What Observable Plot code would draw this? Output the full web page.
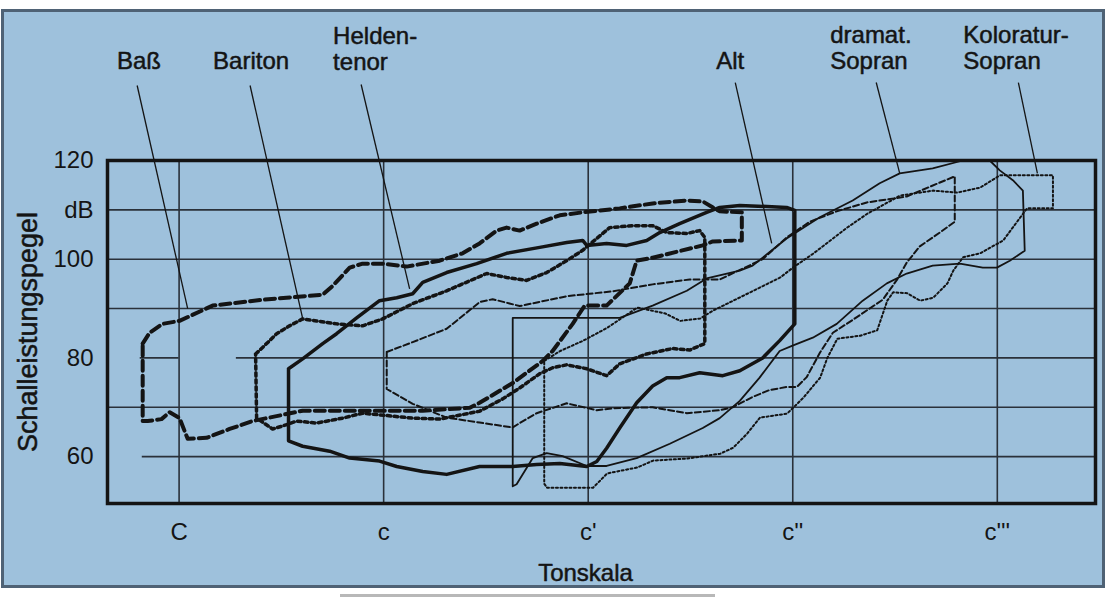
<!DOCTYPE html>
<html><head><meta charset="utf-8">
<script src="https://cdn.jsdelivr.net/npm/d3@7"></script>
<script src="https://cdn.jsdelivr.net/npm/@observablehq/plot@0.6"></script>
<style>
html,body{margin:0;padding:0;background:#fff;}
#page{position:relative;width:1108px;height:597px;overflow:hidden;}
#panel{position:absolute;left:1px;top:9px;width:1098px;height:573px;background:rgb(158,193,220);border:3px solid #4f6275;}
#bar{position:absolute;left:340px;top:594px;width:375px;height:3px;background:#b8b8b8;}
#chart{position:absolute;left:0;top:0;}
</style></head><body>
<div id="page"><div id="panel"></div><div id="bar"></div><div id="chart"></div></div>
<script>
// x in octaves above C (C=0, c=1, c'=2, c''=3, c'''=4); y in dB
const xTicks = [0, 1, 2, 3, 4];
const xTickLabels = ["C", "c", "c'", "c''", "c'''"];
const yTicks = [120, 110, 100, 80, 60];
const yTickLabels = ["120", "dB", "100", "80", "60"];
const gridFullDb = [110, 100, 90, 70];
const gridPartDb = [80, 80, 60];
const gridPartFrom = [-0.19, 0.28, -0.18];
const gridPartTo = [0.0, 4.48, 4.48];

const bass = [[-0.178,82.9],[-0.144,85.1],[-0.081,86.9],[0.002,87.5],[0.164,90.6],[0.408,91.8],[0.702,92.8],[0.751,94.6],[0.834,98.3],[0.897,99.1],[0.995,99.1],[1.112,98.5],[1.274,99.7],[1.386,101.2],[1.469,103.2],[1.553,105.8],[1.601,106.4],[1.665,105.8],[1.748,107.2],[1.861,108.9],[1.973,109.5],[2.154,110.3],[2.315,111.3],[2.482,111.9],[2.560,111.7],[2.643,109.7],[2.751,109.5],[2.751,103.8],[2.609,103.6],[2.560,102.8],[2.315,100.3],[2.237,99.7],[2.203,95.1],[2.090,90.6],[1.983,90.6],[1.924,86.9],[1.826,81.4],[1.778,79.4],[1.631,74.9],[1.469,70.9],[1.421,69.9],[1.191,69.3],[0.897,69.3],[0.604,69.3],[0.359,67.2],[0.247,65.6],[0.134,63.8],[0.042,63.6],[0.002,67.8],[-0.046,69.0],[-0.086,67.6],[-0.154,67.2],[-0.178,67.2]];

const bariton = [[0.374,80.8],[0.408,82.1],[0.477,84.9],[0.540,86.5],[0.604,87.9],[0.672,87.5],[0.770,86.9],[0.897,86.5],[0.995,87.9],[1.142,91.0],[1.308,93.6],[1.504,97.1],[1.601,96.3],[1.699,95.7],[1.797,97.3],[1.895,99.7],[1.973,101.8],[2.042,104.2],[2.105,106.4],[2.218,106.8],[2.315,106.8],[2.384,105.4],[2.482,105.2],[2.545,105.8],[2.570,104.4],[2.570,82.9],[2.496,81.6],[2.413,81.9],[2.286,80.8],[2.154,78.8],[2.090,76.4],[1.993,77.8],[1.895,78.6],[1.826,78.0],[1.763,76.8],[1.665,73.9],[1.582,71.7],[1.469,69.2],[1.274,67.6],[1.142,67.8],[0.897,68.8],[0.800,67.8],[0.672,66.8],[0.575,67.2],[0.506,66.2],[0.457,65.6],[0.379,67.8]];

const heldentenor = [[0.535,77.8],[0.604,79.8],[0.702,82.9],[0.770,84.9],[0.868,88.1],[0.980,91.6],[1.064,92.2],[1.142,93.0],[1.191,95.3],[1.308,97.3],[1.455,99.1],[1.601,101.2],[1.763,102.4],[1.895,103.4],[1.973,103.8],[1.993,102.8],[2.090,103.2],[2.188,102.8],[2.286,103.8],[2.350,105.4],[2.447,107.2],[2.579,109.5],[2.643,110.5],[2.741,110.9],[2.970,110.5],[3.010,109.9],[3.010,86.9],[2.936,83.5],[2.853,80.0],[2.741,77.4],[2.658,76.4],[2.545,77.0],[2.447,76.0],[2.384,76.0],[2.315,74.3],[2.237,70.9],[2.154,65.8],[2.090,61.7],[2.042,59.0],[1.993,58.0],[1.861,58.6],[1.748,58.4],[1.631,58.0],[1.469,58.0],[1.308,56.4],[1.191,57.0],[1.064,58.0],[0.980,59.1],[0.834,59.7],[0.736,61.1],[0.604,62.1],[0.535,63.2]];

const alt = [[1.015,81.2],[1.142,83.2],[1.308,85.9],[1.469,91.3],[1.533,91.9],[1.665,90.5],[1.895,92.5],[2.120,93.5],[2.315,94.9],[2.496,95.9],[2.643,95.9],[2.853,100.0],[2.970,104.4],[3.083,107.6],[3.215,109.7],[3.362,111.5],[3.557,112.7],[3.792,116.8],[3.792,107.6],[3.719,105.4],[3.621,102.6],[3.557,99.3],[3.509,95.8],[3.440,91.8],[3.293,87.7],[3.196,85.1],[3.132,81.0],[3.068,76.1],[3.020,74.1],[2.970,74.1],[2.887,73.5],[2.804,72.1],[2.706,70.0],[2.643,69.4],[2.482,68.8],[2.315,70.0],[2.120,69.8],[2.042,69.4],[1.895,70.8],[1.748,68.8],[1.665,66.8],[1.631,65.9],[1.469,66.9],[1.308,67.9],[1.142,70.7],[1.015,73.7]];

const dramSopran = [[1.631,88.1],[2.154,88.1],[2.315,90.6],[2.482,93.6],[2.579,96.1],[2.741,97.7],[2.804,98.7],[2.970,104.2],[3.132,108.5],[3.293,111.9],[3.425,115.4],[3.523,117.4],[3.684,118.4],[3.831,120.0],[3.963,120.0],[4.012,118.0],[4.076,116.0],[4.125,113.9],[4.134,101.7],[4.061,99.7],[3.998,98.3],[3.929,98.3],[3.817,99.1],[3.684,98.7],[3.557,97.1],[3.460,95.1],[3.342,91.6],[3.215,86.9],[3.098,84.1],[2.999,82.5],[2.936,81.4],[2.838,76.0],[2.741,71.3],[2.643,67.8],[2.560,65.8],[2.399,62.6],[2.237,59.7],[2.090,58.1],[1.993,58.1],[1.875,60.1],[1.797,60.7],[1.729,59.7],[1.650,54.4],[1.631,54.0]];

const kolSopran = [[1.785,79.4],[1.863,81.4],[1.976,83.5],[2.093,86.1],[2.240,90.2],[2.377,89.0],[2.450,87.5],[2.548,88.0],[2.611,89.6],[2.778,93.0],[2.939,96.3],[3.001,98.3],[3.099,101.1],[3.266,106.4],[3.364,109.2],[3.525,112.9],[3.687,113.9],[3.804,113.5],[3.916,114.5],[4.013,117.0],[4.272,117.0],[4.272,110.3],[4.145,110.3],[4.029,103.8],[3.916,101.2],[3.833,100.4],[3.785,97.7],[3.756,95.1],[3.687,92.2],[3.623,91.6],[3.560,93.1],[3.491,93.3],[3.462,91.6],[3.413,85.6],[3.330,84.5],[3.218,83.9],[3.169,80.0],[3.134,76.0],[3.051,71.9],[3.002,69.9],[2.972,68.7],[2.840,67.9],[2.778,64.7],[2.709,61.8],[2.646,60.6],[2.484,59.6],[2.318,59.2],[2.240,57.8],[2.093,56.6],[2.024,53.7],[1.799,53.7],[1.785,54.5]];

const voiceNames = ["Baß", "Bariton", "Helden-\ntenor", "Alt", "dramat.\nSopran", "Koloratur-\nSopran"];
const labelX = [-0.196, 0.352, 0.753, 2.694, 3.183, 3.834];
const labelDb = [140.3, 140.3, 142.7, 140.3, 142.9, 142.9];
const labelStart = [false, false, true, false, true, true];
const leaderFromX = [-0.205, 0.347, 0.890, 2.719, 3.408, 4.103];
const leaderFromDb = [135.2, 135.2, 135.4, 135.8, 135.8, 135.8];
const leaderToX = [0.042, 0.604, 1.127, 2.897, 3.523, 4.196];
const leaderToDb = [90.0, 88.0, 94.0, 103.2, 117.4, 117.4];

const closed = a => a.concat([a[0]]);
const labels = voiceNames.map((t, i) => ({t, x: labelX[i], y: labelDb[i], start: labelStart[i]}));
const leaders = leaderFromX.map((x, i) => ({x1: x, y1: leaderFromDb[i], x2: leaderToX[i], y2: leaderToDb[i]}));
const parts = gridPartDb.map((y, i) => ({y, x1: gridPartFrom[i], x2: gridPartTo[i]}));

const ink = "#141414";
const grid = "#2a313a";
const FONT = "'Liberation Sans', Arial, Helvetica, sans-serif";
const lineOpts = (dash, w) => ({x: d => d[0], y: d => d[1], stroke: ink, strokeWidth: w, strokeDasharray: dash, strokeLinejoin: "round"});
const txt = {fill: ink, stroke: ink, strokeWidth: 0.5};

const chart = Plot.plot({
  width: 1108, height: 597,
  marginLeft: 107, marginRight: 13, marginTop: 160, marginBottom: 94,
  style: {background: "transparent", fontFamily: FONT, color: ink},
  x: {domain: [-0.35, 4.48]},
  y: {domain: [50.5, 120]},
  marks: [
    Plot.ruleX(xTicks, {stroke: grid, strokeWidth: 1.6}),
    Plot.ruleY(gridFullDb, {stroke: grid, strokeWidth: 1.6}),
    Plot.ruleY(parts, {y: "y", x1: "x1", x2: "x2", stroke: grid, strokeWidth: 1.6}),
    Plot.line(closed(dramSopran), lineOpts(null, 1.8)),
    Plot.line(closed(alt), lineOpts("6,3", 2)),
    Plot.line(closed(kolSopran), lineOpts("2,2.5", 2)),
    Plot.line(closed(bariton), lineOpts("3.5,3.5", 3.5)),
    Plot.line(closed(bass), lineOpts("10,5", 4)),
    Plot.line(closed(heldentenor), lineOpts(null, 3.5)),
    Plot.link(leaders, {x1: "x1", y1: "y1", x2: "x2", y2: "y2", stroke: ink, strokeWidth: 1.3}),
    Plot.text(labels.filter(d => !d.start), {x: "x", y: "y", text: "t", textAnchor: "middle", fontSize: 24, lineHeight: 1.1, ...txt}),
    Plot.text(labels.filter(d => d.start), {x: "x", y: "y", text: "t", textAnchor: "start", fontSize: 24, lineHeight: 1.1, ...txt}),
    Plot.axisY({ticks: yTicks, tickFormat: d => yTickLabels[yTicks.indexOf(d)], tickSize: 0, tickPadding: 14, fontSize: 24, label: null, ...txt}),
    Plot.axisX({ticks: xTicks, tickFormat: d => xTickLabels[xTicks.indexOf(d)], tickSize: 0, tickPadding: 19, fontSize: 24, label: null, ...txt}),
    Plot.text(["Schalleistungspegel"], {text: d => d, frameAnchor: "left", dx: -79, rotate: -90, textAnchor: "middle", lineAnchor: "middle", fontSize: 27, ...txt}),
    Plot.text(["Tonskala"], {text: d => d, frameAnchor: "bottom", dy: 70, dx: -16, textAnchor: "middle", lineAnchor: "middle", fontSize: 24, ...txt}),
    Plot.frame({stroke: ink, strokeWidth: 3.5})
  ]
});
document.getElementById("chart").appendChild(chart);
</script>
</body></html>
